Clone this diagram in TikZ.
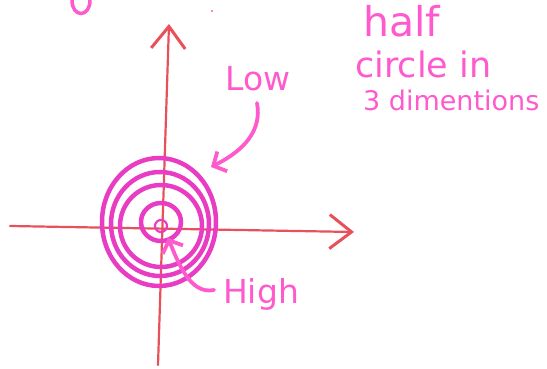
\documentclass[tikz,border=0pt]{standalone}
\usepackage{fontspec}
\setmainfont{DejaVu Sans}
\usetikzlibrary{arrows.meta}
\definecolor{axisred}{RGB}{232,80,90}
\definecolor{inkpink}{RGB}{255,90,205}
\definecolor{ringpink}{RGB}{232,60,195}
\begin{document}
\begin{tikzpicture}[x=1pt,y=-1pt,
  axisline/.style={draw=axisred, line width=2.2pt, line cap=round,
    -{Straight Barb[length=22pt, width=34pt, line width=3pt]}},
  ring/.style={draw=ringpink, line width=4.5pt},
  note/.style={text=inkpink, inner sep=0pt, anchor=west},
  pointer/.style={draw=inkpink, line width=3.8pt, line cap=round,
    -{Straight Barb[length=10pt, width=22pt, line width=3.8pt]}}]
\useasboundingbox (0,0) rectangle (547,369);
% axes
\coordinate (ybot) at (158,365);
\coordinate (ytop) at (169,24);
\coordinate (xleft) at (10,226);
\coordinate (xright) at (354,232);
\draw[axisline] (ybot) -- (ytop);
\draw[axisline] (xleft) -- (xright);
% rings
\coordinate (o) at (161,226);
\draw[ring] (159,222) ellipse [x radius=57, y radius=64];
\draw[ring] (160,224) ellipse [x radius=49, y radius=52];
\draw[ring] (161,226) ellipse [x radius=41, y radius=41];
\draw[ring] (161,222) ellipse [x radius=20, y radius=19];
\draw[ring, line width=2.2pt] (o) circle [radius=6];
% labels
\node[note, font=\fontsize{33}{36}\selectfont, anchor=center] (low) at (258,79) {Low};
\node[note, font=\fontsize{33}{36}\selectfont, anchor=center] (high) at (261,294) {High};
\coordinate (lowtail) at (257,103);
\coordinate (lowtip) at (211,167);
\coordinate (hightail) at (214,290);
\coordinate (hightip) at (168,238);
\draw[pointer] (lowtail) .. controls (262,130) and (245,150) .. (lowtip);
\draw[pointer] (hightail) .. controls (190,295) and (178,262) .. (hightip);
% title notes
\node[note, font=\fontsize{41}{44}\selectfont] (t1) at (363,21) {half};
\node[note, font=\fontsize{35}{38}\selectfont] (t2) at (355,64) {circle in};
\node[note, font=\fontsize{27}{30}\selectfont] (t3) at (363,100) {3 dimentions};
% cut-off fragments at top
\draw[draw=inkpink, line width=3.5pt, line cap=round] (72,0) .. controls (72,18) and (90,18) .. (90,0);
\fill[inkpink] (212,11) circle [radius=1.2];
\end{tikzpicture}
\end{document}
